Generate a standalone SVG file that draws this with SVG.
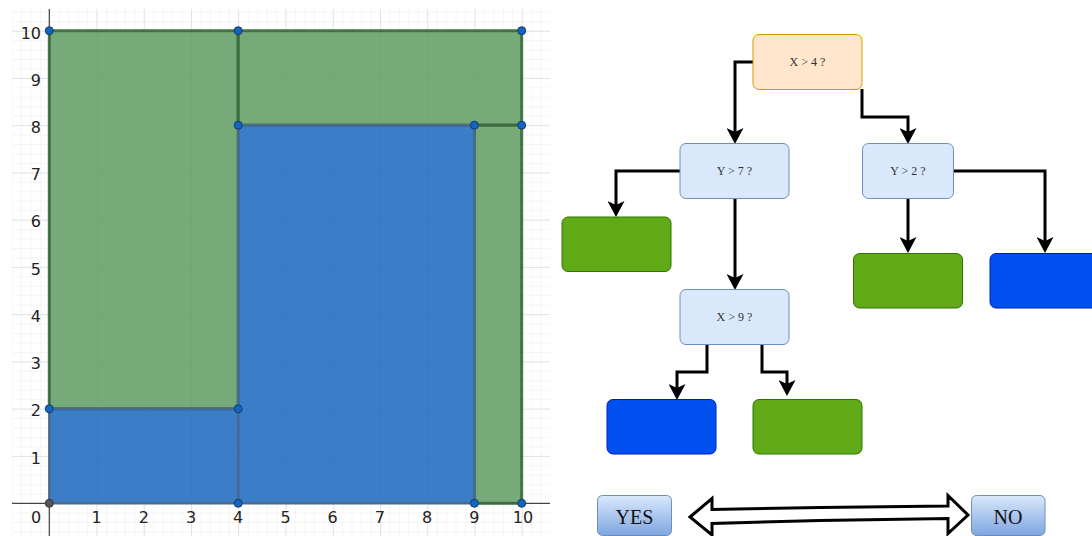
<svg xmlns="http://www.w3.org/2000/svg" width="1092" height="536" viewBox="0 0 1092 536">
<style>
.tick{font-family:"DejaVu Sans",sans-serif;font-size:16px;fill:#222}
.ylab{text-anchor:end}
.xlab{text-anchor:middle}
.g{fill:#5e9b60;fill-opacity:0.85;stroke:#3b6a3d;stroke-width:3;stroke-opacity:0.9}
.b{fill:#1a66be;fill-opacity:0.85;stroke:#4d6a8c;stroke-width:2.5;stroke-opacity:0.9}
.pt{fill:#1565c0;stroke:#0d3c70;stroke-width:1}
.q{stroke-width:1;rx:6}
.qo{fill:#ffe6cc;stroke:#d79b00}
.qb{fill:#dae8fc;stroke:#6c8ebf}
.lg{fill:#60a917;stroke:#2d7600;stroke-width:1}
.lb{fill:#0050ef;stroke:#001dbc;stroke-width:1}
.qt{font-family:"Liberation Serif",serif;font-size:12px;fill:#333;text-anchor:middle}
.yn{fill:url(#yn);stroke:#6c8ebf;stroke-width:1}
.ynt{font-family:"Liberation Serif",serif;font-size:20px;fill:#111;text-anchor:middle}
.c{fill:none;stroke:#000;stroke-width:3;marker-end:url(#ah)}
</style>
<defs>
<pattern id="minor" patternUnits="userSpaceOnUse" x="49.3" y="30.7" width="9.448" height="9.448">
<path d="M0,0 H9.448 M0,0 V9.448" fill="none" stroke="#ececec" stroke-width="1"/>
</pattern>
<pattern id="major" patternUnits="userSpaceOnUse" x="49.3" y="30.7" width="47.24" height="47.24">
<path d="M0,0 H47.24 M0,0 V47.24" fill="none" stroke="#cfcfcf" stroke-width="1"/>
</pattern>
<linearGradient id="yn" x1="0" y1="0" x2="0" y2="1">
<stop offset="0" stop-color="#dae8fc"/>
<stop offset="1" stop-color="#7ea6e0"/>
</linearGradient>
<marker id="ah" markerUnits="userSpaceOnUse" viewBox="0 0 16 17" markerWidth="16" markerHeight="17" refX="8" refY="8.5" orient="auto">
<path d="M0,0 L16,8.5 L0,17 L4,8.5 Z" fill="#000"/>
</marker>
</defs>
<rect width="1092" height="536" fill="#fff"/>
<g id="plot">
<rect x="12" y="9" width="538" height="527" fill="url(#minor)"/>
<rect x="12" y="9" width="538" height="527" fill="url(#major)"/>
<path d="M49.3,9 V536 M12,503.3 H550" stroke="#444" stroke-width="1.2" fill="none"/>
<g id="regions">
<rect id="r1" class="g" x="49.3" y="30.7" width="188.9" height="378.1"/>
<rect id="r2" class="g" x="238.2" y="30.7" width="283.5" height="94.5"/>
<rect id="r3" class="g" x="474.4" y="125.2" width="47.3" height="378.1"/>
<rect id="r4" class="b" x="49.3" y="408.8" width="188.9" height="94.5"/>
<rect id="r5" class="b" x="238.2" y="125.2" width="236.2" height="378.1"/>
</g>
<g id="points">
<circle class="pt" cx="49.3" cy="30.7" r="4"/>
<circle class="pt" cx="238.2" cy="30.7" r="4"/>
<circle class="pt" cx="521.7" cy="30.7" r="4"/>
<circle class="pt" cx="238.2" cy="125.2" r="4"/>
<circle class="pt" cx="474.4" cy="125.2" r="4"/>
<circle class="pt" cx="521.7" cy="125.2" r="4"/>
<circle class="pt" cx="49.3" cy="408.8" r="4"/>
<circle class="pt" cx="238.2" cy="408.8" r="4"/>
<circle class="pt" cx="238.2" cy="503.3" r="4"/>
<circle class="pt" cx="474.4" cy="503.3" r="4"/>
<circle class="pt" cx="521.7" cy="503.3" r="4"/>
<circle cx="49.3" cy="503.3" r="4" fill="#555" stroke="#333" stroke-width="1"/>
</g>
<g id="ylabels" class="tick ylab">
<text x="41" y="38.5">10</text>
<text x="41" y="85.7">9</text>
<text x="41" y="133">8</text>
<text x="41" y="180.2">7</text>
<text x="41" y="227.4">6</text>
<text x="41" y="274.7">5</text>
<text x="41" y="321.9">4</text>
<text x="41" y="369.2">3</text>
<text x="41" y="416.4">2</text>
<text x="41" y="463.6">1</text>
</g>
<g id="xlabels" class="tick xlab">
<text x="36" y="523">0</text>
<text x="96.5" y="523">1</text>
<text x="143.8" y="523">2</text>
<text x="191" y="523">3</text>
<text x="238.2" y="523">4</text>
<text x="285.5" y="523">5</text>
<text x="332.7" y="523">6</text>
<text x="379.9" y="523">7</text>
<text x="427.2" y="523">8</text>
<text x="474.4" y="523">9</text>
<text x="523" y="523">10</text>
</g>
</g>
<g id="connectors">
<path class="c" d="M753,62 H735 V136"/>
<path class="c" d="M862,89 V117 H908 V136"/>
<path class="c" d="M680,171 H616 V209"/>
<path class="c" d="M735,199 V282"/>
<path class="c" d="M908,199 V245"/>
<path class="c" d="M954,171 H1045 V245"/>
<path class="c" d="M707,345 V372 H677 V392"/>
<path class="c" d="M762,345 V372 H787 V388"/>
<path id="double-arrow" d="M690,517 L712,498.5 L712,509.5 L820,507.5 L948,506 L948,495.5 L968,515 L948,533.5 L948,518.5 L820,520.5 L712,523.5 L712,535 Z" fill="#fff" stroke="#000" stroke-width="3" stroke-linejoin="miter"/>
</g>
<g id="n-x4"><rect class="q qo" x="753" y="34.5" width="109" height="55"/><text class="qt" x="807.5" y="66">X &gt; 4 ?</text></g>
<g id="n-y7"><rect class="q qb" x="680" y="143.5" width="109" height="55"/><text class="qt" x="734.5" y="175">Y &gt; 7 ?</text></g>
<g id="n-y2"><rect class="q qb" x="862.5" y="143.5" width="91" height="55"/><text class="qt" x="908" y="175">Y &gt; 2 ?</text></g>
<g id="n-x9"><rect class="q qb" x="680" y="289.5" width="109" height="55"/><text class="qt" x="734.5" y="321">X &gt; 9 ?</text></g>
<g id="leaf-g1"><rect class="q lg" x="562" y="217" width="109" height="54.5"/></g>
<g id="leaf-g2"><rect class="q lg" x="853.5" y="253.5" width="109" height="54.5"/></g>
<g id="leaf-b1"><rect class="q lb" x="990" y="253.5" width="109" height="54.5"/></g>
<g id="leaf-b2"><rect class="q lb" x="607" y="399.5" width="109" height="54.5"/></g>
<g id="leaf-g3"><rect class="q lg" x="753" y="399.5" width="109" height="54.5"/></g>
<g id="yes"><rect class="yn" x="597.5" y="495.5" width="74" height="40" rx="5"/><text class="ynt" x="634.5" y="523.5">YES</text></g>
<g id="no"><rect class="yn" x="971.5" y="495.5" width="73.5" height="40" rx="5"/><text class="ynt" x="1008" y="523.5">NO</text></g>
</svg>
